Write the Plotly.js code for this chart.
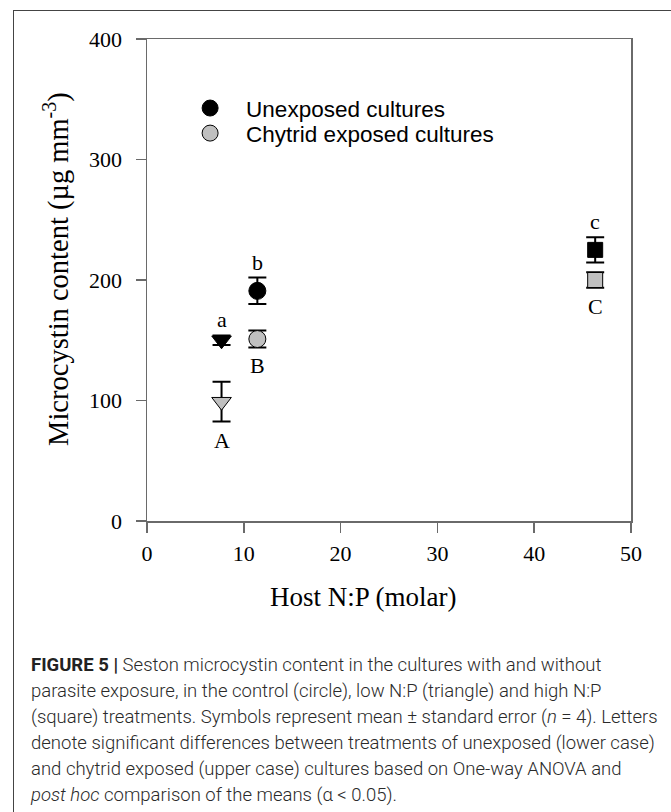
<!DOCTYPE html>
<html>
<head>
<meta charset="utf-8">
<script src="https://cdn.plot.ly/plotly-3.0.1.min.js"></script>
<style>
  html, body { margin: 0; padding: 0; background: #fff; width: 671px; height: 812px; overflow: hidden; }
  #wrap { position: relative; width: 671px; height: 812px; }
  #frame { position: absolute; left: 13px; top: 10px; width: 700px; height: 840px; border: 1.5px solid #444; pointer-events: none; }
  #chart { position: absolute; left: 0; top: 0; width: 671px; height: 640px; }
  #caption { position: absolute; left: 31px; top: 652px; width: 640px; font-family: Roboto, "Liberation Sans", sans-serif; font-weight: 300; font-size: 18.5px; line-height: 26px; color: #2a2a2a; white-space: nowrap; }
  #caption b { font-weight: 700; color: #222; }
</style>
</head>
<body>
<div id="wrap">
  <div id="chart"></div>
  <div id="frame"></div>
  <div id="caption"><b>FIGURE 5 |</b> Seston microcystin content in the cultures with and without<br>parasite exposure, in the control (circle), low N:P (triangle) and high N:P<br>(square) treatments. Symbols represent mean ± standard error (<i>n</i> = 4). Letters<br>denote significant differences between treatments of unexposed (lower case)<br>and chytrid exposed (upper case) cultures based on One-way ANOVA and<br><i>post hoc</i> comparison of the means (α &lt; 0.05).</div>
</div>
<script>
// Treatments: low N:P (triangle), control (circle), high N:P (square)
var hostNP = [7.7, 11.4, 46.3];
var symbols = ['triangle-down', 'circle', 'square'];
var unexposedMean = [150, 191, 225];
var unexposedSE = [4, 11, 10.5];
var exposedMean = [99, 151, 200];
var exposedSE = [16.5, 7, 6.5];
var lowerLetters = ['a', 'b', 'c'];
var upperLetters = ['A', 'B', 'C'];
var legendNames = ['Unexposed cultures', 'Chytrid exposed cultures'];
var xTicks = [0, 10, 20, 30, 40, 50];
var yTicks = [0, 100, 200, 300, 400];
var xTitle = 'Host N:P (molar)';
var yTitle = 'Microcystin content (µg mm<sup>-3</sup>)';

var serif = '"Liberation Serif", "Times New Roman", serif';
var sans = '"Liberation Sans", Arial, sans-serif';
var axisColor = '#6a6a6a';

var traces = [];
var markerSize = {'triangle-down': 17, 'circle': 17, 'square': 15};
for (var i = 0; i < hostNP.length; i++) {
  traces.push({
    x: [hostNP[i]], y: [exposedMean[i]], type: 'scatter', mode: 'markers',
    showlegend: false, cliponaxis: false, hoverinfo: 'x+y',
    error_y: {type: 'data', array: [exposedSE[i]], visible: true, color: '#000', thickness: 2, width: 9},
    marker: {symbol: symbols[i], size: markerSize[symbols[i]], color: '#c0c0c0', line: {color: '#000', width: 1}}
  });
  traces.push({
    x: [hostNP[i]], y: [unexposedMean[i]], type: 'scatter', mode: 'markers',
    showlegend: false, cliponaxis: false, hoverinfo: 'x+y',
    error_y: {type: 'data', array: [unexposedSE[i]], visible: true, color: '#000', thickness: 2, width: 9},
    marker: {symbol: symbols[i], size: markerSize[symbols[i]], color: '#000', line: {color: '#000', width: 1}}
  });
}
// legend-only traces
traces.push({x: [null], y: [null], type: 'scatter', mode: 'markers', name: legendNames[0], legend: 'legend',
  marker: {symbol: 'circle', size: 17, color: '#000', line: {color: '#000', width: 1}}});
traces.push({x: [null], y: [null], type: 'scatter', mode: 'markers', name: legendNames[1], legend: 'legend2',
  marker: {symbol: 'circle', size: 17, color: '#c0c0c0', line: {color: '#000', width: 1}}});

var annotations = [];
for (var j = 0; j < hostNP.length; j++) {
  annotations.push({x: hostNP[j], y: unexposedMean[j] + unexposedSE[j], xref: 'x', yref: 'y',
    text: lowerLetters[j], showarrow: false, yanchor: 'bottom', yshift: 1,
    font: {family: serif, size: 22, color: '#000'}});
  annotations.push({x: hostNP[j], y: exposedMean[j] - exposedSE[j], xref: 'x', yref: 'y',
    text: upperLetters[j], showarrow: false, yanchor: 'top', yshift: -4,
    font: {family: serif, size: 22, color: '#000'}});
}
// axis titles
annotations.push({x: 0.447, y: -0.158, xref: 'paper', yref: 'paper', text: xTitle, showarrow: false,
  xanchor: 'center', yanchor: 'middle', font: {family: serif, size: 27, color: '#000'}});
annotations.push({x: -0.186, y: 0.523, xref: 'paper', yref: 'paper', text: yTitle, showarrow: false,
  textangle: -90, xanchor: 'center', yanchor: 'middle', font: {family: serif, size: 28.5, color: '#000'}});

var legendBase = {xanchor: 'left', yanchor: 'middle', bgcolor: 'rgba(0,0,0,0)', borderwidth: 0,
  font: {family: sans, size: 22.5, color: '#000'}, itemwidth: 62};
var legend1 = Object.assign({}, legendBase, {x: 0.056, y: 0.856});
var legend2 = Object.assign({}, legendBase, {x: 0.056, y: 0.804});

var layout = {
  width: 671, height: 640,
  margin: {l: 147, r: 40, t: 38.5, b: 118.5, pad: 0},
  paper_bgcolor: 'rgba(0,0,0,0)', plot_bgcolor: 'rgba(0,0,0,0)',
  showlegend: true,
  legend: legend1,
  legend2: legend2,
  xaxis: {range: [0, 50], tickvals: xTicks, showgrid: false, zeroline: false,
    showline: true, linecolor: axisColor, linewidth: 1.5, mirror: true,
    ticks: 'outside', ticklen: 10, tickwidth: 1.5, tickcolor: axisColor, ticklabelstandoff: 2,
    tickfont: {family: serif, size: 22, color: '#000'}},
  yaxis: {range: [0, 400], tickvals: yTicks, showgrid: false, zeroline: false,
    showline: true, linecolor: axisColor, linewidth: 1.5, mirror: true,
    ticks: 'outside', ticklen: 10, tickwidth: 1.5, tickcolor: axisColor, ticklabelstandoff: 9,
    tickfont: {family: serif, size: 22, color: '#000'}},
  annotations: annotations
};

Plotly.newPlot('chart', traces, layout, {displayModeBar: false, staticPlot: true});
</script>
</body>
</html>
